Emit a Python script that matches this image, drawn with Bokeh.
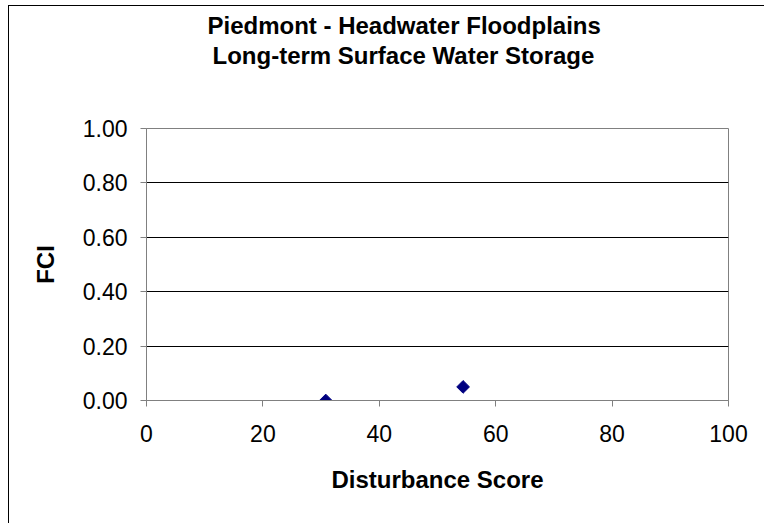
import numpy as np
from bokeh.plotting import figure
from bokeh.models import Title, Range1d, NumeralTickFormatter, FixedTicker
from bokeh.embed import file_html
from bokeh.resources import INLINE

# data
disturbance_score = [30.8, 54.4]
fci = [0.0, 0.05]
x_ticks = [0, 20, 40, 60, 80, 100]
y_ticks = [0.0, 0.2, 0.4, 0.6, 0.8, 1.0]
title_lines = ["Piedmont - Headwater Floodplains", "Long-term Surface Water Storage"]

FONT = "Liberation Sans"

p = figure(width=756, height=518, output_backend="svg", toolbar_location=None,
           x_range=Range1d(0, 100), y_range=Range1d(0, 1),
           min_border_left=137, min_border_right=37, min_border_top=122, min_border_bottom=124)
p.styles = {"border-left": "1px solid #000", "border-top": "1px solid #000",
            "border-right": "0", "border-bottom": "0", "outline": "none",
            "box-shadow": "none", "margin-left": "8px", "margin-top": "5px"}

p.outline_line_color = "#808080"
p.outline_line_width = 1
p.background_fill_color = "white"
p.border_fill_color = "white"

p.xgrid.grid_line_color = None
p.ygrid.grid_line_color = "#000000"
p.ygrid.grid_line_width = 1
p.ygrid.ticker = FixedTicker(ticks=y_ticks)

p.xaxis.ticker = FixedTicker(ticks=x_ticks)
p.yaxis.ticker = FixedTicker(ticks=y_ticks)
p.yaxis.formatter = NumeralTickFormatter(format="0.00")

for ax in (p.xaxis[0], p.yaxis[0]):
    ax.axis_line_color = "#808080"
    ax.major_tick_line_color = "#808080"
    ax.major_tick_in = 0
    ax.major_tick_out = 6
    ax.minor_tick_line_color = None
    ax.major_label_text_font = FONT
    ax.major_label_text_font_size = "23px"
    ax.major_label_text_color = "#000000"
    ax.axis_label_text_font = FONT
    ax.axis_label_text_font_size = "24px"
    ax.axis_label_text_font_style = "bold"
    ax.axis_label_text_color = "#000000"

p.xaxis.axis_label = "Disturbance Score"
p.yaxis.axis_label = "FCI"
p.xaxis.major_label_standoff = 18
p.xaxis.axis_label_standoff = 21
p.yaxis.major_label_standoff = 13
p.yaxis.axis_label_standoff = 21

p.scatter(disturbance_score, fci, marker="square", angle=np.pi / 4, size=9,
          fill_color="#000080", line_color="#000080")

# spacer between plot area and title block (closest to the plot)
p.add_layout(Title(text=" ", standoff=56, text_font_size="1px"), "above")
# title lines: the later-added one sits farther from the plot
p.add_layout(Title(text=title_lines[1], align="left", offset=66, standoff=2,
                   text_font=FONT, text_font_size="24px", text_font_style="bold",
                   text_color="#000000"), "above")
p.add_layout(Title(text=title_lines[0], align="left", offset=61, standoff=0,
                   text_font=FONT, text_font_size="24px", text_font_style="bold",
                   text_color="#000000"), "above")

open("out.html", "w").write(file_html(p, INLINE))
